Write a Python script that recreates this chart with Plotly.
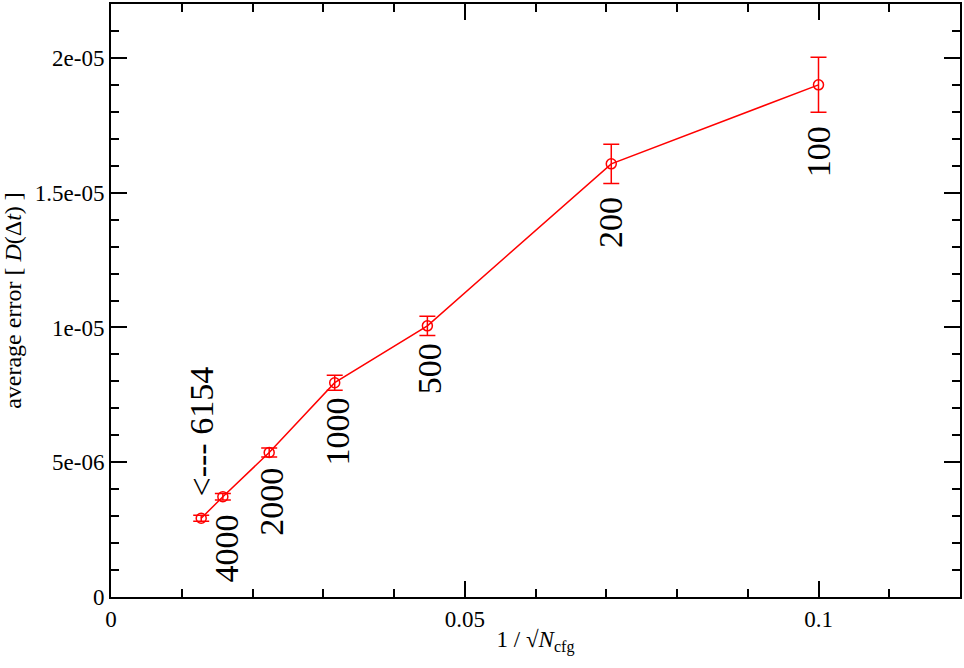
import plotly.graph_objects as go

# number of configurations and the measured average error
N_CFG = [6154, 4000, 2000, 1000, 500, 200, 100]
X_VALS = [0.01275, 0.01581, 0.02236, 0.03162, 0.04472, 0.07071, 0.1]
ERR_AVG = [2.92e-06, 3.72e-06, 5.36e-06, 7.95e-06, 1.006e-05, 1.607e-05, 1.90e-05]
ERR_BAR = [0.11e-06, 0.12e-06, 0.17e-06, 0.28e-06, 0.36e-06, 0.73e-06, 1.02e-06]
LABELS = ['<--- 6154', '4000', '2000', '1000', '500', '200', '100']

X_TICKS = [0, 0.05, 0.1]
X_TICKTEXT = ['0', '0.05', '0.1']
Y_TICKS = [0, 5e-06, 1e-05, 1.5e-05, 2e-05]
Y_TICKTEXT = ['0', '5e-06', '1e-05', '1.5e-05', '2e-05']

FONT = 'Liberation Serif'
RED = '#ff0000'

# pixel offsets of the rotated labels relative to their points
LABEL_DX = [0, 4, 2, 3, 2, 0, 0]
LABEL_DY = [-87, 52, 49, 49, 43, 59, 67]


def build_figure():
    fig = go.Figure()
    fig.add_trace(go.Scatter(
        x=X_VALS, y=ERR_AVG, mode='lines+markers',
        line=dict(color=RED, width=1.5),
        marker=dict(symbol='circle-open', size=10, color=RED, line=dict(width=1.5)),
        error_y=dict(type='data', array=ERR_BAR, visible=True,
                     color=RED, thickness=1.5, width=8),
        showlegend=False,
    ))

    for x, y, txt, dx, dy in zip(X_VALS, ERR_AVG, LABELS, LABEL_DX, LABEL_DY):
        fig.add_annotation(x=x, y=y, text=txt, showarrow=False, textangle=-90,
                           xanchor='center', yanchor='middle',
                           xshift=dx, yshift=-dy,
                           font=dict(family=FONT, size=34, color='black'))

    axis_common = dict(
        showline=True, linecolor='black', linewidth=2, mirror='allticks',
        ticks='inside', ticklen=16, tickwidth=1.5, tickcolor='black',
        showgrid=False, zeroline=False,
        tickfont=dict(family=FONT, size=23, color='black'),
    )
    fig.update_xaxes(
        range=[0, 0.12], tickmode='array', tickvals=X_TICKS, ticktext=X_TICKTEXT,
        minor=dict(tickmode='linear', tick0=0, dtick=0.01, ticks='inside',
                   ticklen=8, tickwidth=1.5, tickcolor='black'),
        title=dict(text='1 / √<i>N</i><sub>cfg</sub>',
                   font=dict(family=FONT, size=23, color='black'), standoff=0),
        **axis_common)
    fig.update_yaxes(
        range=[0, 2.2e-05], tickmode='array', tickvals=Y_TICKS, ticktext=Y_TICKTEXT,
        minor=dict(tickmode='linear', tick0=0, dtick=1e-06, ticks='inside',
                   ticklen=8, tickwidth=1.5, tickcolor='black'),
        title=dict(text='average error [ <i>D</i>(Δ<i>t</i>) ]',
                   font=dict(family=FONT, size=24, color='black'), standoff=8),
        **axis_common)

    fig.update_layout(
        width=964, height=668,
        margin=dict(l=111, r=4, t=2, b=71),
        plot_bgcolor='white', paper_bgcolor='white',
        font=dict(family=FONT, color='black'),
    )
    return fig


def main():
    fig = build_figure()
    # drop the default page margin so the figure sits at the window corner
    fig.write_html('out.html', config={'displayModeBar': False},
                   post_script="document.body.style.margin='0';")


if __name__ == '__main__':
    main()
